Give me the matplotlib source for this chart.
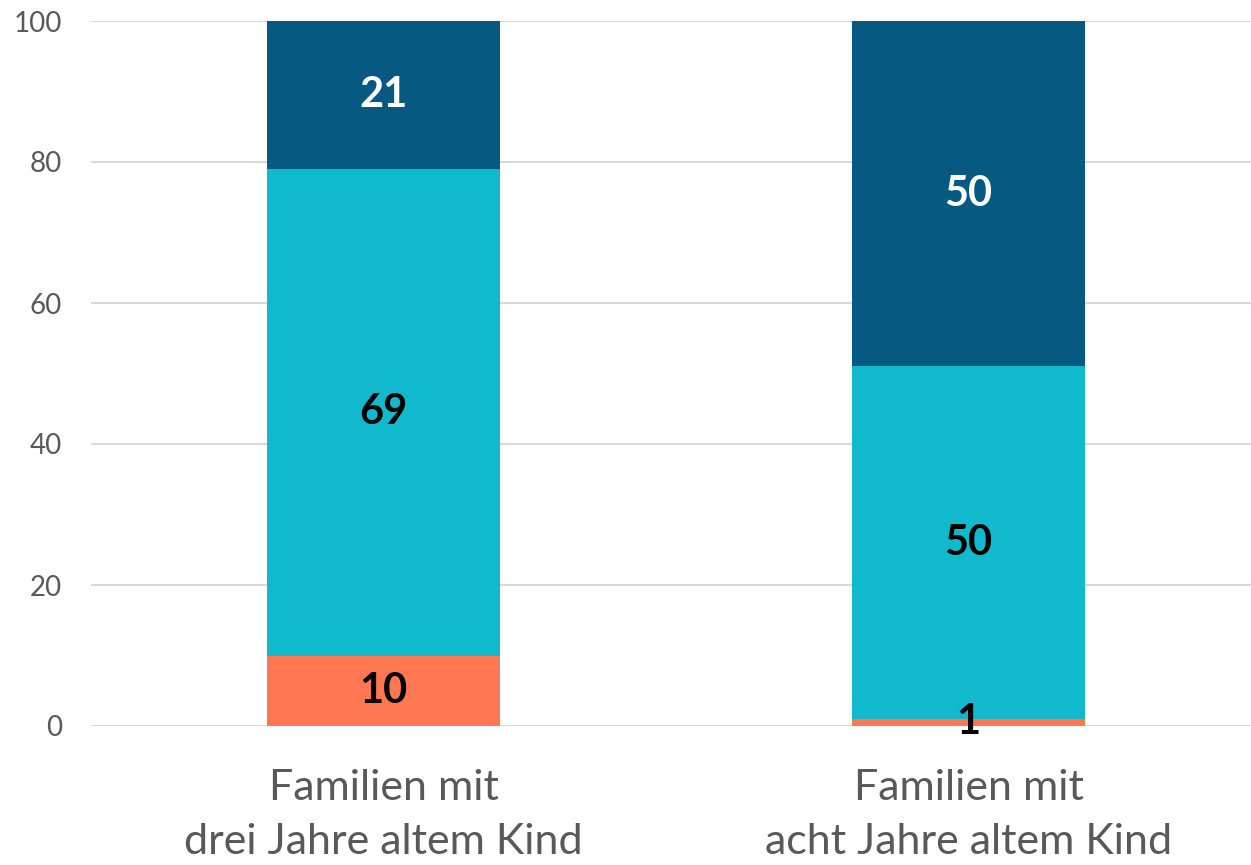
import matplotlib.pyplot as plt
import numpy as np

plt.rcParams['font.family'] = ['Lato', 'DejaVu Sans']

categories = ['Familien mit\ndrei Jahre altem Kind', 'Familien mit\nacht Jahre altem Kind']
unten = [10, 1]
mitte = [69, 50]
oben = [21, 50]

farben = ['#ff7852', '#10b9cc', '#065a82']
textfarben = ['black', 'black', 'white']

fig = plt.figure(figsize=(12.51, 8.65), dpi=100)
ax = fig.add_axes([91 / 1251, 1 - 726 / 865, 1170 / 1251, 705 / 865])

x = np.arange(len(categories))
boden = np.zeros(len(categories))
for werte, farbe, tf in zip([unten, mitte, oben], farben, textfarben):
    bars = ax.bar(x, werte, bottom=boden, width=0.398, color=farbe, zorder=2)
    ax.bar_label(bars, labels=[str(v) for v in werte], label_type='center',
                 color=tf, fontsize=30, fontweight='bold')
    boden += np.array(werte)

ax.set_ylim(0, 100)
ax.set_xlim(-0.5, 1.5)
ax.set_yticks(range(0, 101, 20))
ax.set_xticks(x)
ax.set_xticklabels(categories, fontsize=31, color='#595959', linespacing=1.5)
ax.tick_params(axis='y', labelsize=20, labelcolor='#595959', length=0, pad=21)
ax.tick_params(axis='x', length=0, pad=31)
ax.grid(axis='y', color='#d9d9d9', linewidth=1.5, zorder=0)
for s in ax.spines.values():
    s.set_visible(False)

fig.savefig('out.png', dpi=100)
